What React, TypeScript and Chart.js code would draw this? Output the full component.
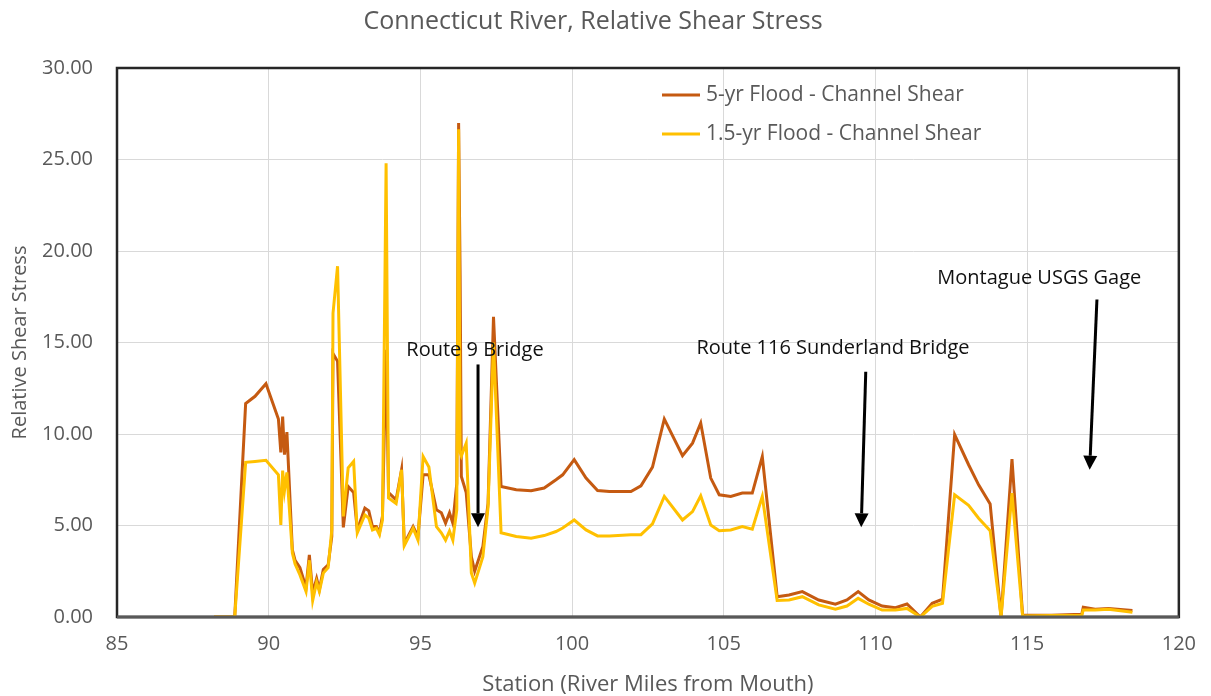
import React, { useEffect, useRef } from "react";
import { Chart, registerables } from "chart.js";

Chart.register(...registerables);

// ---- data ----
const chartTitle = "Connecticut River, Relative Shear Stress";
const xAxisTitle = "Station (River Miles from Mouth)";
const yAxisTitle = "Relative Shear Stress";
const seriesLabels = ["5-yr Flood - Channel Shear", "1.5-yr Flood - Channel Shear"];
const seriesColors = ["#C55A11", "#FFC000"];

const stations = [
  88.2, 88.88, 89.24, 89.55, 89.91, 90.32, 90.4, 90.46, 90.52, 90.6,
  90.78, 90.87, 91.03, 91.23, 91.34, 91.45, 91.58, 91.67, 91.8, 91.96,
  92.08, 92.12, 92.27, 92.46, 92.62, 92.8, 92.92, 93.17, 93.3, 93.42,
  93.55, 93.65, 93.75, 93.87, 93.95, 94.2, 94.38, 94.47, 94.76, 94.92,
  95.09, 95.28, 95.53, 95.69, 95.83, 95.96, 96.07, 96.2, 96.26, 96.31,
  96.35, 96.51, 96.68, 96.79, 97.06, 97.23, 97.41, 97.66, 98.16, 98.65,
  99.08, 99.47, 99.69, 100.07, 100.46, 100.84, 101.23, 101.94, 102.27, 102.65,
  103.04, 103.64, 103.97, 104.24, 104.57, 104.85, 105.23, 105.61, 105.94, 106.27,
  106.76, 107.15, 107.59, 108.13, 108.68, 109.06, 109.43, 109.78, 110.22, 110.66,
  111.04, 111.48, 111.87, 112.21, 112.61, 113.07, 113.4, 113.78, 114.14, 114.5,
  114.85, 115.8, 116.8, 116.85, 117.24, 117.68, 118.47,
];

const flood5yr = [
  0, 0, 11.66, 12.06, 12.75, 10.82, 9.0, 10.95, 8.87, 10.1,
  3.67, 3.1, 2.7, 1.6, 3.4, 1.3, 2.1, 1.5, 2.6, 2.85,
  4.4, 14.4, 13.97, 4.9, 7.13, 6.8, 4.76, 5.95, 5.8, 4.94,
  4.94, 4.6, 5.5, 14.6, 6.8, 6.4, 8.05, 4.0, 4.94, 4.4,
  7.77, 7.77, 5.86, 5.7, 5.13, 5.7, 5.13, 7.3, 27.0, 18.6,
  7.68, 6.8, 3.3, 2.5, 3.85, 6.2, 16.4, 7.13, 6.95, 6.9,
  7.05, 7.5, 7.77, 8.6, 7.59, 6.91, 6.86, 6.86, 7.17, 8.19,
  10.82, 8.81, 9.5, 10.6, 7.59, 6.68, 6.59, 6.77, 6.77, 8.77,
  1.11, 1.2, 1.39, 0.93, 0.7, 0.93, 1.39, 0.93, 0.6, 0.51,
  0.71, 0, 0.75, 0.97, 9.96, 8.32, 7.22, 6.18, 0, 8.63,
  0.1, 0.1, 0.15, 0.53, 0.42, 0.47, 0.35,
];

const flood15yr = [
  0, 0, 8.45, 8.5, 8.56, 7.77, 5.03, 8.0, 6.9, 7.9,
  3.5, 2.9, 2.3, 1.4, 3.1, 0.9, 1.9, 1.4, 2.4, 2.7,
  4.76, 16.6, 19.17, 5.5, 8.15, 8.5, 4.6, 5.58, 5.4, 4.76,
  4.85, 4.5, 5.3, 24.8, 6.5, 6.2, 8.05, 3.9, 4.85, 4.2,
  8.77, 8.2, 4.94, 4.6, 4.2, 4.7, 4.2, 5.86, 26.65, 9.0,
  8.8, 9.5, 2.4, 1.85, 3.3, 6.0, 15.0, 4.6, 4.4, 4.3,
  4.45, 4.67, 4.86, 5.3, 4.76, 4.43, 4.43, 4.5, 4.5, 5.09,
  6.59, 5.3, 5.76, 6.62, 5.03, 4.72, 4.76, 4.94, 4.8, 6.59,
  0.9, 0.93, 1.11, 0.66, 0.42, 0.6, 1.02, 0.7, 0.38, 0.38,
  0.47, 0, 0.58, 0.75, 6.68, 6.1, 5.4, 4.72, 0, 6.77,
  0.05, 0.08, 0.1, 0.38, 0.38, 0.42, 0.26,
];

const annotationTexts = ["Route 9 Bridge", "Route 116 Sunderland Bridge", "Montague USGS Gage"];
// label anchor (station, value) and arrow from/to in data units
const annotationLabelAt = [
  [96.8, 14.55],
  [108.6, 14.7],
  [115.4, 18.5],
];
const annotationArrowFrom = [
  [96.9, 13.8],
  [109.68, 13.4],
  [117.3, 17.35],
];
const annotationArrowTo = [
  [96.9, 4.9],
  [109.53, 4.9],
  [117.06, 8.05],
];

const FONT = "'Open Sans', 'DejaVu Sans', sans-serif";
const GREY = "#595959";

const framePlugin = {
  id: "frame",
  beforeDatasetsDraw(chart: any) {
    const { ctx, chartArea: a } = chart;
    ctx.save();
    ctx.strokeStyle = "#262626";
    ctx.lineWidth = 2.5;
    ctx.strokeRect(a.left, a.top, a.right - a.left, a.bottom - a.top);
    ctx.restore();
  },
  afterDatasetsDraw(chart: any) {
    const { ctx, chartArea: a } = chart;
    ctx.save();
    ctx.strokeStyle = "#595959";
    ctx.lineWidth = 3;
    ctx.beginPath();
    ctx.moveTo(a.left, a.bottom);
    ctx.lineTo(a.right, a.bottom);
    ctx.stroke();
    ctx.restore();
  },
};

const legendPlugin = {
  id: "insideLegend",
  afterDraw(chart: any) {
    const { ctx } = chart;
    ctx.save();
    ctx.font = `21px ${FONT}`;
    ctx.textBaseline = "middle";
    ctx.textAlign = "left";
    chart.data.datasets.forEach((ds: any, i: number) => {
      const y = 95 + i * 39;
      ctx.strokeStyle = ds.borderColor;
      ctx.lineWidth = 3;
      ctx.beginPath();
      ctx.moveTo(662, y);
      ctx.lineTo(700, y);
      ctx.stroke();
      ctx.fillStyle = GREY;
      ctx.fillText(ds.label, 706, y);
    });
    ctx.restore();
  },
};

const annotationPlugin = {
  id: "arrows",
  afterDraw(chart: any) {
    const { ctx, scales } = chart;
    const px = (v: number) => scales.x.getPixelForValue(v);
    const py = (v: number) => scales.y.getPixelForValue(v);
    ctx.save();
    annotationTexts.forEach((t, i) => {
      ctx.font = `20px ${FONT}`;
      ctx.fillStyle = "#111";
      ctx.textAlign = "center";
      ctx.textBaseline = "middle";
      ctx.fillText(t, px(annotationLabelAt[i][0]), py(annotationLabelAt[i][1]));
      const x1 = px(annotationArrowFrom[i][0]);
      const y1 = py(annotationArrowFrom[i][1]);
      const x2 = px(annotationArrowTo[i][0]);
      const y2 = py(annotationArrowTo[i][1]);
      const ang = Math.atan2(y2 - y1, x2 - x1);
      const head = 14;
      const hw = 7;
      const bx = x2 - head * Math.cos(ang);
      const by = y2 - head * Math.sin(ang);
      ctx.strokeStyle = "#000";
      ctx.lineWidth = 3;
      ctx.beginPath();
      ctx.moveTo(x1, y1);
      ctx.lineTo(bx, by);
      ctx.stroke();
      ctx.fillStyle = "#000";
      ctx.beginPath();
      ctx.moveTo(x2, y2);
      ctx.lineTo(bx + hw * Math.sin(ang), by - hw * Math.cos(ang));
      ctx.lineTo(bx - hw * Math.sin(ang), by + hw * Math.cos(ang));
      ctx.closePath();
      ctx.fill();
    });
    ctx.restore();
  },
};

export default function App() {
  const canvasRef = useRef<HTMLCanvasElement | null>(null);

  useEffect(() => {
    if (!canvasRef.current) return;
    const toPoints = (vals: number[]) => stations.map((s, i) => ({ x: s, y: vals[i] }));
    const chart = new Chart(canvasRef.current, {
      type: "line",
      data: {
        datasets: [
          {
            label: seriesLabels[0],
            data: toPoints(flood5yr),
            borderColor: seriesColors[0],
            backgroundColor: seriesColors[0],
            borderWidth: 3,
            pointRadius: 0,
            tension: 0,
            order: 2,
          },
          {
            label: seriesLabels[1],
            data: toPoints(flood15yr),
            borderColor: seriesColors[1],
            backgroundColor: seriesColors[1],
            borderWidth: 3,
            pointRadius: 0,
            tension: 0,
            order: 1,
          },
        ],
      },
      options: {
        responsive: false,
        animation: false,
        layout: { padding: { left: 0, right: 25, top: 0, bottom: 0 } },
        plugins: {
          legend: { display: false },
          tooltip: { enabled: false },
          title: {
            display: true,
            text: chartTitle,
            color: GREY,
            font: { family: FONT, size: 25, weight: "normal", lineHeight: 1.2 },
            padding: { top: 7, bottom: 31 },
          },
        },
        scales: {
          x: {
            type: "linear",
            min: 85,
            max: 120,
            afterFit: (s: any) => {
              s.height = 79;
            },
            ticks: {
              stepSize: 5,
              color: GREY,
              padding: 15,
              font: { family: FONT, size: 20 },
            },
            grid: { color: "#D9D9D9", lineWidth: 1, drawTicks: false },
            border: { display: false },
            title: {
              display: true,
              text: xAxisTitle,
              color: GREY,
              font: { family: FONT, size: 22, lineHeight: 1 },
              padding: { top: 0, bottom: 0 },
            },
          },
          y: {
            min: 0,
            max: 30,
            afterFit: (s: any) => {
              s.width = 117;
            },
            ticks: {
              stepSize: 5,
              color: GREY,
              padding: 24,
              font: { family: FONT, size: 20 },
              callback: (v: any) => Number(v).toFixed(2),
            },
            grid: { color: "#D9D9D9", lineWidth: 1, drawTicks: false },
            border: { display: false },
            title: {
              display: true,
              text: yAxisTitle,
              color: GREY,
              font: { family: FONT, size: 20, lineHeight: 1.2 },
              padding: { top: 8, bottom: 0 },
            },
          },
        },
      },
      plugins: [framePlugin, legendPlugin, annotationPlugin],
    } as any);
    return () => chart.destroy();
  }, []);

  return (
    <div style={{ position: "fixed", left: 0, top: 0, width: 1211, height: 696, background: "#fff" }}>
      <canvas ref={canvasRef} width={1211} height={696} />
    </div>
  );
}
